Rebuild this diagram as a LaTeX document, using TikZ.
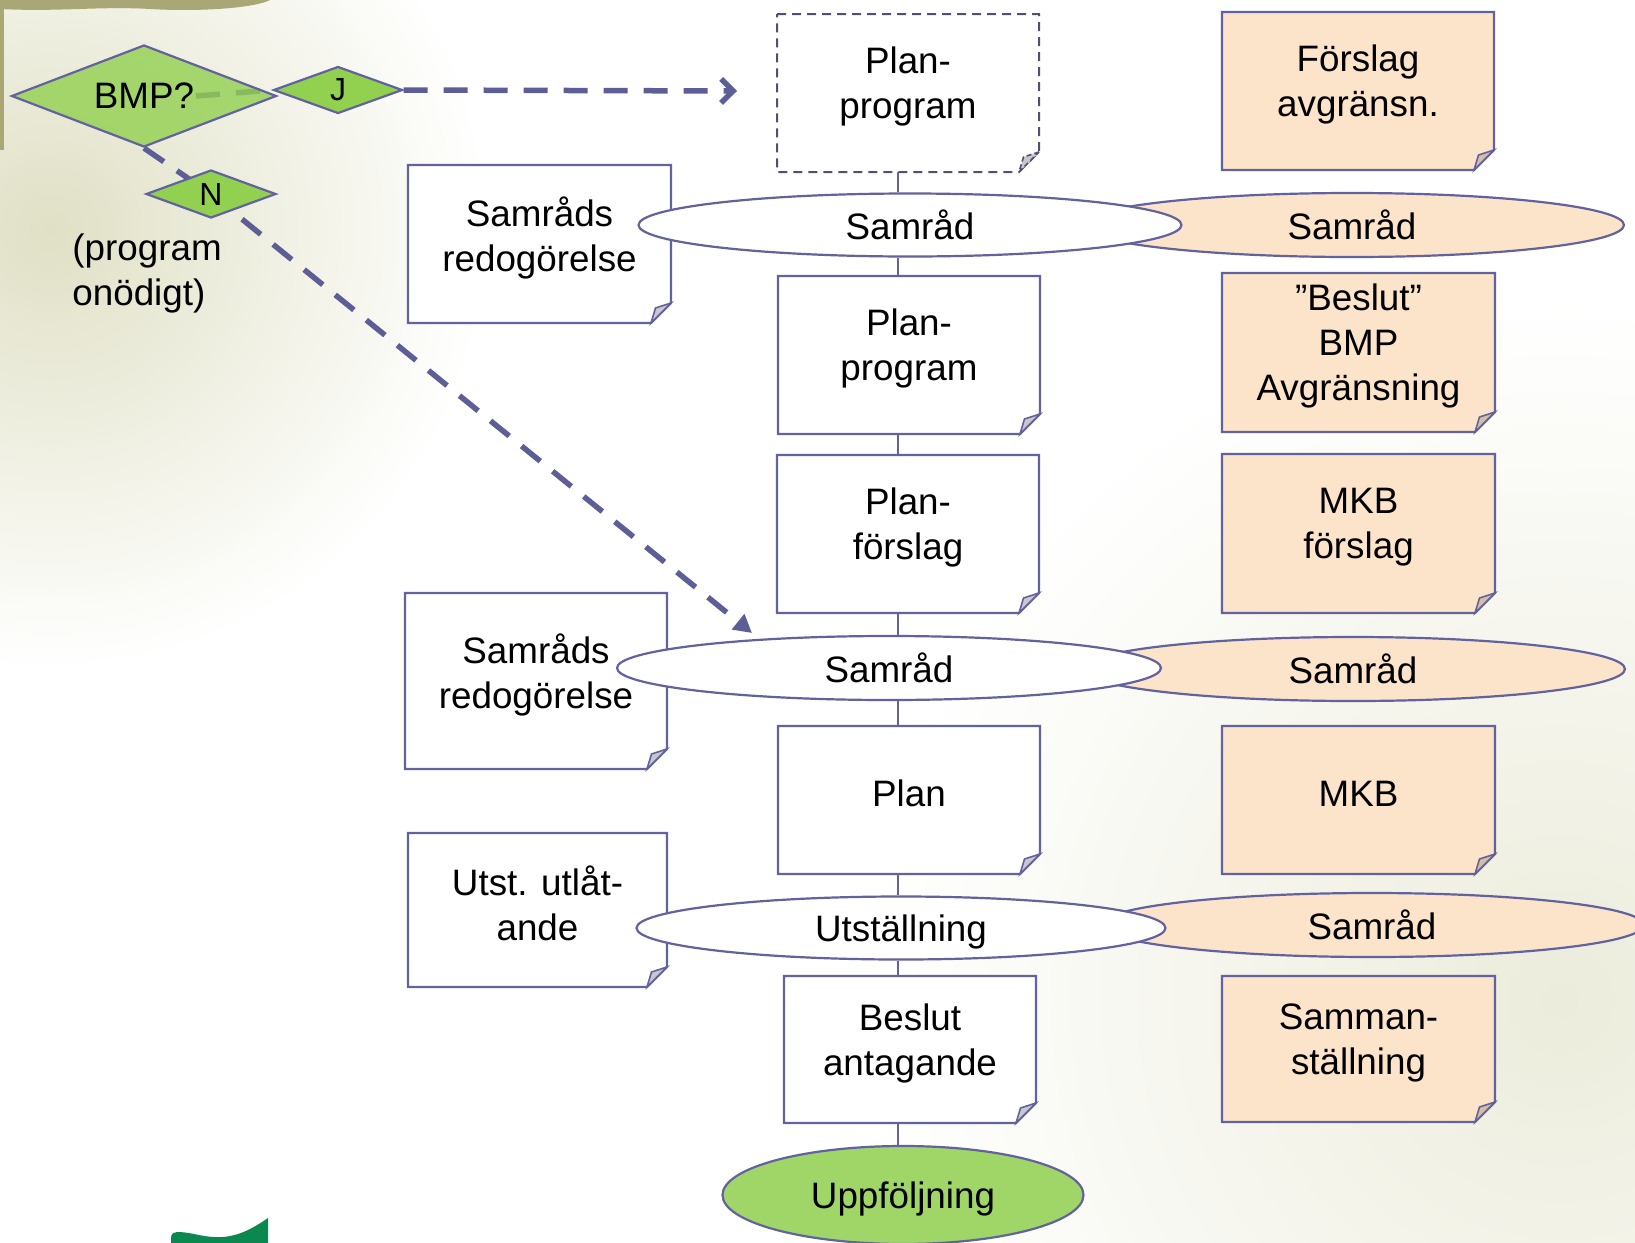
\documentclass[tikz,border=0pt]{standalone}
\usepackage{fontspec}
\setmainfont{Liberation Sans}
\usetikzlibrary{shapes.geometric,arrows.meta}

\pgfdeclarelayer{bglayer}
\pgfdeclarelayer{linelayer}
\pgfsetlayers{bglayer,linelayer,main}

\definecolor{edgec}{RGB}{98,98,158}
\definecolor{dashc}{RGB}{94,94,150}
\definecolor{dboxc}{RGB}{80,80,115}
\definecolor{peach}{RGB}{252,228,203}
\definecolor{peachflapc}{RGB}{214,190,165}
\definecolor{grayflapc}{RGB}{200,200,204}
\definecolor{lgreen}{RGB}{146,208,80}
\definecolor{ugreen}{RGB}{160,214,104}
\definecolor{logoc}{RGB}{10,136,80}
\definecolor{hazea}{RGB}{224,224,198}
\definecolor{hazeb}{RGB}{236,236,220}
\definecolor{olivec}{RGB}{170,167,118}

\tikzset{
  every node/.style={font=\fontsize{18.4}{22.5}\selectfont, text=black},
  whitebox/.style={draw=edgec, line width=1.1pt, fill=white},
  peachbox/.style={draw=edgec, line width=1.1pt, fill=peach},
  dashbox/.style={draw=dboxc, line width=1pt, fill=white, dash pattern=on 4.5pt off 3pt},
  whiteflap/.style={draw=edgec, line width=0.8pt, fill=grayflapc},
  peachflap/.style={draw=edgec, line width=0.8pt, fill=peachflapc},
  dashflap/.style={draw=dboxc, line width=0.8pt, fill=grayflapc, dash pattern=on 2.5pt off 1.5pt},
  boxtext/.style={align=center, inner sep=0pt},
  oval/.style={ellipse, draw=edgec, line width=1.1pt, inner sep=0pt, text depth=0pt},
  decision/.style={diamond, draw=edgec, line width=1.1pt, fill=lgreen, inner sep=0pt, aspect=2.6},
  conn/.style={draw=edgec, line width=1pt},
  dashline/.style={draw=dashc, line width=2.75pt, dash pattern=on 12pt off 8pt},
}

% name, left, top, right, bottom, box style, flap style, text  (coordinates in px, 1px = 0.5pt)
\newcommand\foldbox[8]{%
  \node[inner sep=0pt, outer sep=0pt, minimum width={(#4-#2)*0.5pt}, minimum height={(#5-#3)*0.5pt}] (#1) at ({(#2+#4)/2},{(#3+#5)/2}) {};
  \path[#6] (#1.north west) -- (#1.north east) -- ([yshift=10pt]#1.south east) -- ([xshift=-10pt]#1.south east) -- (#1.south west) -- cycle;
  \path[#7] ([yshift=10pt]#1.south east) -- ([xshift=-7.75pt,yshift=7.5pt]#1.south east) -- ([xshift=-10pt]#1.south east) -- cycle;
  \node[boxtext] (#1-t) at ([yshift=3.2pt]#1.center) {#8};
}

\begin{document}
\begin{tikzpicture}[x=0.5pt,y=-0.5pt]
\useasboundingbox (0,0) rectangle (1635,1243);

% background (photo haze)
\begin{pgfonlayer}{bglayer}
  \fill[white] (0,0) rectangle (1635,1243);
  \begin{scope}
    \clip (0,0) rectangle (1635,1243);
    \shade[inner color=hazea, outer color=white] (50,230) circle [radius=220pt];
    \shade[inner color=hazeb, outer color=white] (1560,1000) circle [radius=350pt];
  \end{scope}
  \fill[olivec] (0,0) -- (270,0) .. controls (255,8) and (200,12) .. (150,9) .. controls (100,6) and (60,12) .. (0,9) -- cycle;
  \fill[olivec] (0,0) rectangle (4,150);
  \fill[logoc] (171,1243) -- (171,1238) .. controls (171,1233) and (174,1232) .. (180,1232) .. controls (195,1233) and (205,1238) .. (222,1237) .. controls (240,1236) and (255,1227) .. (268,1218) -- (268,1243) -- cycle;
\end{pgfonlayer}

% left column (under the white ellipses)
\foldbox{sr1}{408}{165}{671}{323}{whitebox}{whiteflap}{Samråds\\redogörelse}
\foldbox{sr2}{405}{593}{667}{769}{whitebox}{whiteflap}{Samråds\\redogörelse}
\foldbox{utst}{408}{833}{667}{987}{whitebox}{whiteflap}{Utst. utlåt-\\ande}

% right column (peach) ellipses first, white ones on top
\node[oval, fill=peach, minimum width=272pt, minimum height=32pt] (p1) at (1352,225) {Samråd};
\node[oval, fill=peach, minimum width=272pt, minimum height=32pt] (p2) at (1353,669) {Samråd};
\node[oval, fill=peach, minimum width=272pt, minimum height=32pt] (p3) at (1372,925) {Samråd};

\node[oval, fill=white, minimum width=271.5pt, minimum height=31.5pt] (s1) at (910,225) {Samråd};
\node[oval, fill=white, minimum width=272pt, minimum height=32pt] (s2) at (889,668) {Samråd};
\node[oval, fill=white, minimum width=264.5pt, minimum height=31.5pt] (s3) at (901,928) {Utställning};
\node[oval, fill=ugreen, minimum width=180.5pt, minimum height=49pt] (upp) at (903,1195) {Uppföljning};

% middle column
\foldbox{pp1}{777}{14}{1039}{172}{dashbox}{dashflap}{Plan-\\program}
\foldbox{pp2}{778}{276}{1040}{434}{whitebox}{whiteflap}{Plan-\\program}
\foldbox{pf}{777}{455}{1039}{613}{whitebox}{whiteflap}{Plan-\\förslag}
\foldbox{plan}{778}{726}{1040}{874}{whitebox}{whiteflap}{Plan}
\foldbox{bes}{784}{976}{1036}{1123}{whitebox}{whiteflap}{Beslut\\antagande}

% right column
\foldbox{fa}{1222}{12}{1494}{170}{peachbox}{peachflap}{Förslag\\avgränsn.}
\foldbox{bbmp}{1222}{273}{1495}{432}{peachbox}{peachflap}{”Beslut”\\BMP\\Avgränsning}
\foldbox{mkbf}{1222}{454}{1495}{613}{peachbox}{peachflap}{MKB\\förslag}
\foldbox{mkb}{1222}{726}{1495}{874}{peachbox}{peachflap}{MKB}
\foldbox{samm}{1222}{976}{1495}{1122}{peachbox}{peachflap}{Samman-\\ställning}

% decisions
\node[decision, minimum width=64.5pt, minimum height=23.5pt, font=\fontsize{16}{19}\selectfont] (j) at (338,90) {J};
\node[decision, minimum width=65pt, minimum height=24pt, font=\fontsize{16}{19}\selectfont] (n) at (211,194) {N};
\node[decision, minimum width=132.5pt, minimum height=51pt, fill opacity=0.8, text opacity=1] (bmp) at (144,96) {BMP?};

\node[align=left, inner sep=0pt, anchor=north west] (prog) at (72,233) {(program\\onödigt)};

\coordinate (jend) at (737,91);
\coordinate (nend) at (752,633);
\coordinate (spine) at (898,0);

\begin{pgfonlayer}{linelayer}
  \draw[dashline] ([xshift=26pt]bmp.center) -- (j.west);
  \draw[dashline] (bmp.south) -- (n.center);
  \draw[dashline, -{Straight Barb[length=6pt,width=12pt]}] (j.east) -- (jend);
  \draw[dashline, -{Triangle[length=9pt,width=9.5pt]}] (n.center) -- (nend);

  \draw[conn] (pp1.south -| spine) -- (s1.north -| spine);
  \draw[conn] (s1.south -| spine) -- (pp2.north -| spine);
  \draw[conn] (pp2.south -| spine) -- (pf.north -| spine);
  \draw[conn] (pf.south -| spine) -- (s2.north -| spine);
  \draw[conn] (s2.south -| spine) -- (plan.north -| spine);
  \draw[conn] (plan.south -| spine) -- (s3.north -| spine);
  \draw[conn] (s3.south -| spine) -- (bes.north -| spine);
  \draw[conn] (bes.south -| spine) -- (upp.north -| spine);
\end{pgfonlayer}
\end{tikzpicture}
\end{document}
